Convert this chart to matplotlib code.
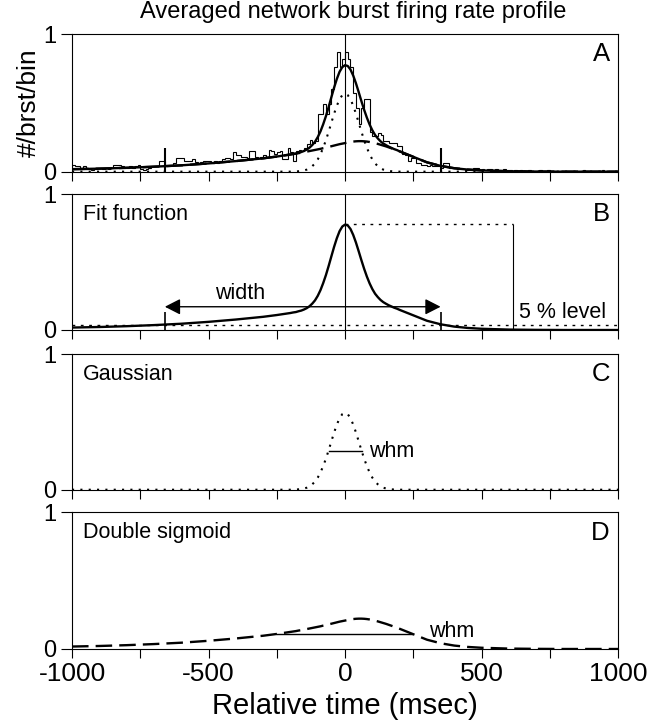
import numpy as np
import matplotlib
matplotlib.use("Agg")
import matplotlib.pyplot as plt

plt.rcParams['font.family'] = ['Liberation Sans', 'DejaVu Sans']
plt.rcParams['axes.unicode_minus'] = False

# -------- data --------

# histogram of panel A, 10 ms bins from -1000 to 1000 (one row = 100 ms)
hist_vals = [
    0.05, 0.04, 0.04, 0.03, 0.04, 0.02, 0.02, 0.01, 0.02, 0.03,
    0.03, 0.02, 0.03, 0.02, 0.03, 0.05, 0.05, 0.05, 0.04, 0.03,
    0.03, 0.04, 0.03, 0.04, 0.05, 0.02, 0.01, 0.02, 0.03, 0.04,
    0.04, 0.04, 0.08, 0.08, 0.05, 0.05, 0.05, 0.06, 0.10, 0.10,
    0.10, 0.08, 0.08, 0.08, 0.09, 0.07, 0.06, 0.07, 0.08, 0.08,
    0.08, 0.06, 0.08, 0.06, 0.08, 0.09, 0.10, 0.10, 0.09, 0.14,
    0.12, 0.12, 0.11, 0.11, 0.10, 0.15, 0.15, 0.11, 0.10, 0.11,
    0.12, 0.11, 0.16, 0.15, 0.13, 0.14, 0.15, 0.09, 0.09, 0.17,
    0.14, 0.08, 0.15, 0.16, 0.15, 0.17, 0.20, 0.23, 0.21, 0.22,
    0.42, 0.42, 0.49, 0.42, 0.49, 0.60, 0.76, 0.87, 0.76, 0.82,
    0.87, 0.82, 0.76, 0.57, 0.46, 0.35, 0.46, 0.53, 0.53, 0.29,
    0.26, 0.26, 0.28, 0.27, 0.22, 0.22, 0.21, 0.21, 0.21, 0.19,
    0.19, 0.13, 0.12, 0.08, 0.10, 0.10, 0.06, 0.06, 0.05, 0.05,
    0.04, 0.05, 0.04, 0.04, 0.04, 0.03, 0.06, 0.06, 0.03, 0.03,
    0.03, 0.02, 0.02, 0.02, 0.01, 0.02, 0.01, 0.03, 0.03, 0.01,
    0.02, 0.01, 0.02, 0.02, 0.01, 0.02, 0.01, 0.01, 0.02, 0.01,
    0.01, 0.00, 0.01, 0.00, 0.01, 0.00, 0.00, 0.01, 0.00, 0.00,
    0.00, 0.01, 0.00, 0.00, 0.01, 0.00, 0.00, 0.00, 0.00, 0.00,
    0.00, 0.00, 0.00, 0.00, 0.00, 0.00, 0.00, 0.01, 0.00, 0.00,
    0.00, 0.00, 0.00, 0.00, 0.01, 0.00, 0.00, 0.00, 0.00, 0.00,
]
bin_edges = np.linspace(-1000, 1000, len(hist_vals) + 1)

# time points where the fit curves were read
t_fit = ([-1000, -900, -800, -700, -600, -500, -400, -300, -250]
         + list(range(-200, 201, 10))
         + [250, 300, 350, 400, 450, 500, 600, 700, 800, 900, 1000])

# gaussian part (dotted)
gauss_vals = (
    [0.0] * 9
    + [0.000, 0.001, 0.001, 0.003, 0.005, 0.009, 0.015, 0.025, 0.040, 0.060,
       0.089, 0.127, 0.174, 0.229, 0.291, 0.357, 0.422, 0.480, 0.527, 0.557,
       0.567,
       0.557, 0.527, 0.480, 0.422, 0.357, 0.291, 0.229, 0.174, 0.127, 0.089,
       0.060, 0.040, 0.025, 0.015, 0.009, 0.005, 0.003, 0.001, 0.001, 0.000]
    + [0.0] * 11
)

# double sigmoid part (dashed)
sigm_vals = (
    [0.018, 0.022, 0.028, 0.036, 0.046, 0.060, 0.077, 0.097, 0.110]
    + [0.125, 0.128, 0.131, 0.135, 0.138, 0.142, 0.146, 0.150, 0.154, 0.158,
       0.162, 0.166, 0.171, 0.175, 0.180, 0.185, 0.190, 0.195, 0.200, 0.204,
       0.208,
       0.212, 0.216, 0.219, 0.221, 0.222, 0.222, 0.221, 0.219, 0.216, 0.212,
       0.207, 0.202, 0.196, 0.190, 0.184, 0.177, 0.170, 0.163, 0.156, 0.148]
    + [0.108, 0.068, 0.042, 0.025, 0.015, 0.009, 0.003, 0.001, 0.0, 0.0, 0.0]
)

# fit function = gaussian + double sigmoid
fit_vals = np.array(gauss_vals) + np.array(sigm_vals)

# markers / annotations
width_left, width_right = -660, 350   # 5 % crossings
level5 = 0.04
peak_level = 0.78
peak_mark_t = 617
gauss_whm = (-60, 63, 0.285)
sigm_whm = (-250, 245, 0.113)

# -------- figure --------
fig = plt.figure(figsize=(6.62, 7.24), dpi=100)

L, W = 0.1088, 0.8248
rects = [(0.7629, 0.1898), (0.5442, 0.1878), (0.3236, 0.1874), (0.1036, 0.1888)]
axes = [fig.add_axes([L, b, W, h]) for b, h in rects]

solid = dict(color='k', lw=1.7, solid_capstyle='round')
dotted = dict(color='k', lw=1.5, linestyle=(0, (1, 3)))
dashed = dict(color='k', lw=1.7, linestyle=(0, (7, 3)))

for i, ax in enumerate(axes):
    ax.set_xlim(-1000, 1000)
    ax.set_ylim(0, 1)
    ax.set_xticks(np.arange(-1000, 1001, 250))
    ax.set_yticks([0, 1])
    ax.set_yticklabels(['0', '1'], fontsize=17)
    ax.tick_params(axis='x', direction='out', length=6.5, width=0.8, pad=3)
    ax.tick_params(axis='y', direction='out', length=8, width=0.8, pad=3)
    for s in ax.spines.values():
        s.set_linewidth(0.8)
    if i < 3:
        ax.set_xticklabels([])
    ax.text(0.985, 0.94, "ABCD"[i], transform=ax.transAxes, ha='right',
            va='top', fontsize=18.5)

# bottom axis labels
axes[3].set_xticklabels(['-1000', '', '-500', '', '0', '', '500', '', '1000'],
                        fontsize=19)
axes[3].set_xlabel("Relative time (msec)", fontsize=21, labelpad=4)

# ===============================
# A: histogram + fits
# ===============================
ax = axes[0]
ax.stairs(hist_vals, bin_edges, color='k', lw=0.8)
ax.plot(t_fit, fit_vals, **solid)
ax.plot(t_fit, gauss_vals, **dotted)
ax.plot(t_fit, sigm_vals, **dashed)
ax.axvline(0, color='k', lw=0.8)
ax.vlines([width_left, width_right], 0, 0.17, color='k', lw=1.5)
ax.set_ylabel("#/brst/bin", fontsize=19, labelpad=2)

# ===============================
# B: fit function
# ===============================
ax = axes[1]
ax.plot(t_fit, fit_vals, **solid)
ax.axvline(0, color='k', lw=0.8)
ax.axhline(level5, color='k', lw=1, linestyle=(0, (2, 4)))
ax.plot([0, peak_mark_t], [peak_level, peak_level], color='k', lw=1,
        linestyle=(0, (2, 4)))
ax.vlines(peak_mark_t, 0, peak_level, color='k', lw=0.8)
ax.vlines([width_left, width_right], 0, 0.13, color='k', lw=1.2)
ax.annotate('', xy=(width_left, 0.171), xytext=(width_right, 0.171),
            arrowprops=dict(arrowstyle='<|-|>,head_length=0.47,head_width=0.24',
                            mutation_scale=20, lw=1, color='k',
                            shrinkA=0, shrinkB=0))
ax.text(-385, 0.19, "width", ha='center', va='bottom', fontsize=15.5)
ax.text(955, 0.13, "5 % level", ha='right', va='center', fontsize=15.5)
ax.text(0.02, 0.93, "Fit function", transform=ax.transAxes, ha='left',
        va='top', fontsize=15.5)

# ===============================
# C: gaussian
# ===============================
ax = axes[2]
ax.plot(t_fit, gauss_vals, **dotted)
ax.plot(gauss_whm[:2], [gauss_whm[2]] * 2, color='k', lw=1)
ax.text(89, gauss_whm[2], "whm", ha='left', va='center', fontsize=15.5)
ax.text(0.02, 0.93, "Gaussian", transform=ax.transAxes, ha='left',
        va='top', fontsize=15.5)

# ===============================
# D: double sigmoid
# ===============================
ax = axes[3]
ax.plot(t_fit, sigm_vals, **dashed)
ax.plot(sigm_whm[:2], [sigm_whm[2]] * 2, color='k', lw=1)
ax.text(307, 0.13, "whm", ha='left', va='center', fontsize=15.5)
ax.text(0.02, 0.93, "Double sigmoid", transform=ax.transAxes, ha='left',
        va='top', fontsize=15.5)

fig.text(353 / 662, 1 - 12 / 724, "Averaged network burst firing rate profile",
         ha='center', va='center', fontsize=17)

fig.savefig("out.png", dpi=100)
